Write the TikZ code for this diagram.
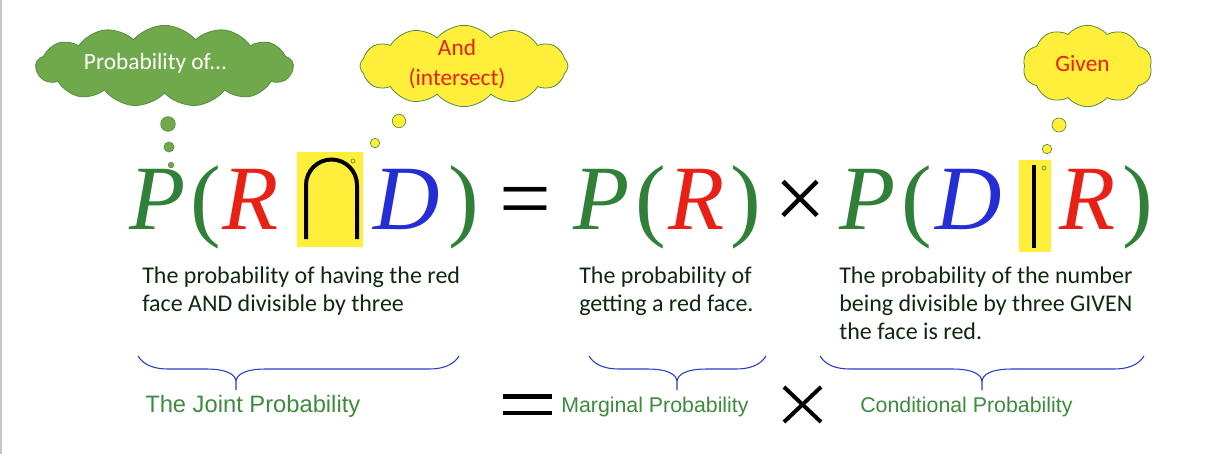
\documentclass[tikz,border=0pt]{standalone}
\usepackage{fontspec}
\setmainfont{Carlito}
\newfontfamily\eqfont{Liberation Serif}
\newfontfamily\lblfont{Liberation Sans}
\usetikzlibrary{shapes.symbols}
\definecolor{cloudgreen}{RGB}{112,168,76}
\definecolor{cloudedge}{RGB}{84,140,64}
\definecolor{hiyellow}{RGB}{255,238,58}
\definecolor{eqgreen}{RGB}{48,128,56}
\definecolor{eqred}{RGB}{232,32,22}
\definecolor{eqblue}{RGB}{36,46,212}
\definecolor{textdark}{RGB}{16,40,16}
\definecolor{labgreen}{RGB}{62,138,62}
\definecolor{bracebl}{RGB}{40,60,200}
\tikzset{
  thought/.style={cloud, cloud puffs=13, cloud puff arc=100, cloud ignores aspect,
    draw=cloudedge, line width=0.6pt, inner sep=0pt, minimum height=61pt},
  cloudtxt/.style={font=\fontsize{17.5}{21}\selectfont, align=center, inner sep=0pt},
  sym/.style={anchor=base west, inner sep=0pt, font=\eqfont\fontsize{69}{69}\selectfont},
  note/.style={anchor=north west, inner sep=0pt, align=left, text=textdark,
    font=\fontsize{18}{21}\selectfont},
  lbl/.style={anchor=base west, inner sep=0pt, text=labgreen, font=\lblfont},
  bubble/.style={draw=cloudedge, line width=0.5pt}
}
\begin{document}
\begin{tikzpicture}[x=0.75pt,y=-0.75pt]
    \fill[white] (0,0) rectangle (1229,454);
    \useasboundingbox (0,0) rectangle (1229,454);
    \draw[gray!45, line width=1.2pt] (1,0) -- (1,454);

    \node[thought, fill=cloudgreen, minimum width=193pt] (probcloud) at (164.5,66) {};
    \node[cloudtxt, text=white] (probtxt) at ([shift={(-9,-3)}]probcloud.center) {Probability of...};
    \node[thought, fill=hiyellow, cloud puffs=12, minimum width=156pt] (andcloud) at (464,66) {};
    \node[cloudtxt, text=eqred] (andtxt) at ([shift={(-7,-2)}]andcloud.center) {And\\[2pt](intersect)};
    \node[thought, fill=hiyellow, cloud puffs=10, minimum width=97pt] (givencloud) at (1087.5,66) {};
    \node[cloudtxt, text=eqred] (giventxt) at ([shift={(-5,-2)}]givencloud.center) {Given};

    \fill[hiyellow] (297,152) rectangle (363,247);
    \fill[hiyellow] (1019,160) rectangle (1051,252);

    \node[sym, eqgreen] (p1) at (129,229) {\itshape P};
    \node[sym, eqgreen] (lp1) at (190,229) {(};
    \node[sym, eqred] (r1) at (222,229) {\itshape R};
    \draw[line width=3pt] (306,239) -- (306,185) arc (180:360:25.5) -- (357,239);
    \node[sym, eqblue] (d1) at (373,229) {\itshape D};
    \node[sym, eqgreen] (rp1) at (448,229) {)};
    \node[sym] (eq) at (499,229) {=};
    \node[sym, eqgreen] (p2) at (573,229) {\itshape P};
    \node[sym, eqgreen] (lp2) at (635,229) {(};
    \node[sym, eqred] (r2) at (668,229) {\itshape R};
    \node[sym, eqgreen] (rp2) at (730,229) {)};
    \node[sym] (times) at (774,229) {×};
    \node[sym, eqgreen] (p3) at (839,229) {\itshape P};
    \node[sym, eqgreen] (lp3) at (901,229) {(};
    \node[sym, eqblue] (d2) at (935,229) {\itshape D};
    \draw[line width=2.6pt] (1034,165) -- (1034,248);
    \node[sym, eqred] (r3) at (1059,229) {\itshape R};
    \node[sym, eqgreen] (rp3) at (1122,229) {)};

    \fill[cloudgreen, bubble] (168,124) circle (7.3);
    \fill[cloudgreen, bubble] (169,147) circle (5);
    \fill[cloudgreen, bubble] (171,165) circle (2.7);
    \fill[hiyellow, bubble] (399,121) circle (6.7);
    \fill[hiyellow, bubble] (375,143) circle (4.7);
    \draw[bubble] (353,161) circle (2);
    \fill[hiyellow, bubble] (1059,125) circle (7);
    \fill[hiyellow, bubble] (1047,149) circle (4.7);
    \draw[bubble] (1044,168) circle (2);

    \node[note] (jointtxt) at (142,267) {The probability of having the red\\face AND divisible by three};
    \node[note] (margtxt) at (579,267) {The probability of\\getting a red face.};
    \node[note] (condtxt) at (839,267) {The probability of the number\\being divisible by three GIVEN\\the face is red.};

    \foreach \l/\m/\r in {138/236/459, 589/677/766, 820/982/1144}
      \draw[bracebl, line width=0.8pt] (\l,356) .. controls ({\l+6},366) and ({\l+18},369) .. ({\l+30},369)
        -- ({\m-30},369) .. controls ({\m-10},369) and (\m,374) .. (\m,382) -- (\m,390)
        (\m,382) .. controls (\m,374) and ({\m+10},369) .. ({\m+30},369)
        -- ({\r-30},369) .. controls ({\r-18},369) and ({\r-6},366) .. (\r,356);

    \node[lbl, font=\lblfont\fontsize{17.8}{21}\selectfont] (joint) at (145,412) {The Joint Probability};
    \fill (503,394) rectangle (552,398.5);
    \fill (503,410.5) rectangle (552,415);
    \node[lbl, font=\lblfont\fontsize{16}{20}\selectfont] (marg) at (561,412) {Marginal Probability};
    \draw[line width=3pt] (784,387) -- (821,422) (821,387) -- (784,422);
    \node[lbl, font=\lblfont\fontsize{16}{20}\selectfont] (cond) at (860,412) {Conditional Probability};
\end{tikzpicture}
\end{document}
